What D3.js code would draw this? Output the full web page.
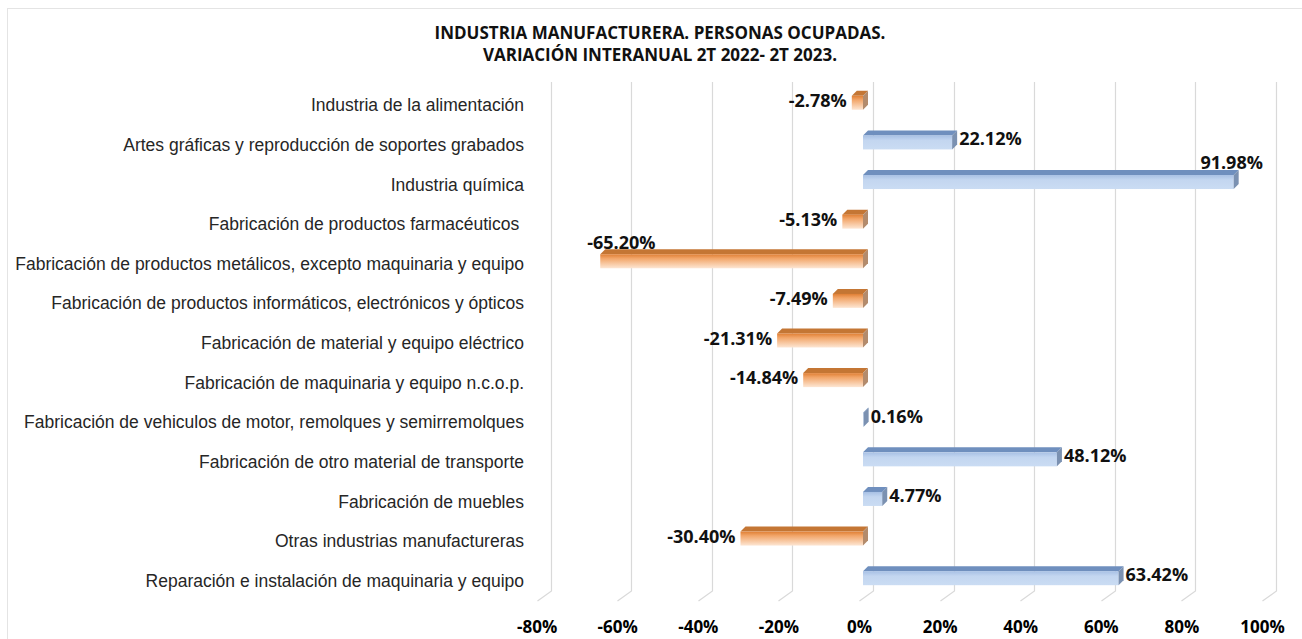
<!DOCTYPE html>
<html>
<head>
<meta charset="utf-8">
<script src="https://cdn.jsdelivr.net/npm/d3@7"></script>
<style>
  body { margin: 0; background: #fff; }
  svg { display: block; }
</style>
</head>
<body>
<div id="my_dataviz"></div>
<script>
// data
var categories = [
  "Industria de la alimentación",
  "Artes gráficas y reproducción de soportes grabados",
  "Industria química",
  "Fabricación de productos farmacéuticos ",
  "Fabricación de productos metálicos, excepto maquinaria y equipo",
  "Fabricación de productos informáticos, electrónicos y ópticos",
  "Fabricación de material y equipo eléctrico",
  "Fabricación de maquinaria y equipo n.c.o.p.",
  "Fabricación de vehiculos de motor, remolques y semirremolques",
  "Fabricación de otro material de transporte",
  "Fabricación de muebles",
  "Otras industrias manufactureras",
  "Reparación e instalación de maquinaria y equipo"
];
var values = [-2.78, 22.12, 91.98, -5.13, -65.20, -7.49, -21.31, -14.84, 0.16, 48.12, 4.77, -30.40, 63.42];
var ticks = [-80, -60, -40, -20, 0, 20, 40, 60, 80, 100];
var titleLines = ["INDUSTRIA MANUFACTURERA. PERSONAS OCUPADAS.", "VARIACIÓN INTERANUAL 2T 2022- 2T 2023."];

var width = 1302, height = 639;

// 3d look: back wall sits 10px right of the bars' front plane
var wallDx = 10, floorDx = -14, floorDy = 10;
var barDx = 5, barDy = 5;
var plotTop = 86, plotBottom = 601, wallTop = 82;

var svg = d3.select("#my_dataviz")
  .append("svg")
    .attr("width", width)
    .attr("height", height);

var defs = svg.append("defs");

function grad(id, stops) {
  var g = defs.append("linearGradient")
    .attr("id", id)
    .attr("x1", 0).attr("y1", 0).attr("x2", 0).attr("y2", 1);
  stops.forEach(function(s) {
    g.append("stop").attr("offset", s[0]).attr("stop-color", s[1]);
  });
}
grad("blueFront", [[0, "#a7c0e4"], [0.35, "#c3d6f0"], [1, "#cadcf3"]]);
grad("orangeFront", [[0, "#e07f34"], [0.3, "#f2a66a"], [1, "#fde6d3"]]);

// chart border, faint
svg.append("rect")
  .attr("x", 7.5).attr("y", 8.5)
  .attr("width", 1400).attr("height", 700)
  .attr("fill", "none")
  .attr("stroke", "#e4e4e4");

// front-plane x scale
var xScale = d3.scaleLinear()
  .domain([-80, 100])
  .range([863 - 80 * 4.03, 863 + 100 * 4.03]);

var yScale = d3.scaleBand()
  .domain(categories)
  .range([plotTop, plotBottom]);

// gridlines on the back wall, bending onto the floor
svg.append("g")
  .selectAll("path")
  .data(ticks)
  .enter()
  .append("path")
    .attr("fill", "none")
    .attr("stroke", "#d9d9d9")
    .attr("stroke-width", 1.2)
    .attr("d", function(d) {
      var xb = Math.round(xScale(d) + wallDx) + 0.5;
      var yb = plotBottom - floorDy;
      return "M" + xb + "," + wallTop + "L" + xb + "," + yb +
             "L" + (xb + floorDx) + "," + (yb + floorDy);
    });

// x axis labels (no domain line, no ticks)
var xAxis = d3.axisBottom(xScale)
  .tickValues(ticks)
  .tickSize(0)
  .tickFormat(function(d) { return d + "%"; });

svg.append("g")
  .attr("transform", "translate(" + (wallDx + floorDx) + ",622)")
  .call(xAxis)
  .call(function(g) { g.select(".domain").remove(); })
  .selectAll("text")
    .attr("dy", "0.32em")
    .attr("y", 6)
    .style("font-family", "'Open Sans', sans-serif")
    .style("font-weight", "bold")
    .style("font-size", "17px")
    .style("fill", "#000");

// category labels
var yAxis = d3.axisLeft(yScale).tickSize(0);
svg.append("g")
  .attr("transform", "translate(528,0)")
  .call(yAxis)
  .call(function(g) { g.select(".domain").remove(); })
  .selectAll("text")
    .attr("x", -4)
    .style("white-space", "pre")
    .style("font-family", "'Liberation Sans', Arial, sans-serif")
    .style("font-size", "17.5px")
    .style("fill", "#262626");

// bars
var bars = svg.append("g")
  .selectAll("g")
  .data(values)
  .enter()
  .append("g");

function cy(i) { return yScale(categories[i]) + yScale.bandwidth() / 2; }

bars.each(function(v, i) {
  var g = d3.select(this);
  var c = cy(i);
  var x0 = xScale(Math.min(0, v)), x1 = xScale(Math.max(0, v));
  var yt = c - 10, yb = c + 4;
  var pos = v >= 0;
  // top face
  g.append("path")
    .attr("fill", pos ? "#6f8fbe" : "#c47634")
    .attr("d", "M" + x0 + "," + yt + "L" + (x0 + barDx) + "," + (yt - barDy) +
               "L" + (x1 + barDx) + "," + (yt - barDy) + "L" + x1 + "," + yt + "Z");
  // front face
  g.append("rect")
    .attr("x", x0).attr("y", yt)
    .attr("width", Math.max(0.6, x1 - x0)).attr("height", yb - yt)
    .attr("fill", pos ? "url(#blueFront)" : "url(#orangeFront)");
  // side face on the right end
  g.append("path")
    .attr("fill", pos ? "#7b91b1" : "#b38b6c")
    .attr("d", "M" + x1 + "," + yt + "L" + (x1 + barDx) + "," + (yt - barDy) +
               "L" + (x1 + barDx) + "," + (yb - barDy) + "L" + x1 + "," + yb + "Z");
});

// data labels
var ctx = document.createElement("canvas").getContext("2d");
ctx.font = "bold 18px 'Open Sans'";

bars.append("text")
  .style("font-family", "'Open Sans', sans-serif")
  .style("font-weight", "bold")
  .style("font-size", "18px")
  .style("fill", "#111")
  .attr("dominant-baseline", "central")
  .each(function(v, i) {
    var t = d3.select(this);
    var s = v.toFixed(2) + "%";
    var w = ctx.measureText(s).width;
    var c = cy(i);
    t.text(s);
    if (v >= 0) {
      var xs = xScale(v) + barDx + 2;
      if (xs + w > width - 10) {
        // no room on the right: put it above the bar end
        t.attr("x", xScale(v) - 2).attr("y", c - 23).attr("text-anchor", "middle");
      } else {
        t.attr("x", xs).attr("y", c - 7).attr("text-anchor", "start");
      }
    } else {
      var xe = xScale(v) - 5;
      if (xe - w < xScale(-80)) {
        t.attr("x", xScale(v) - 13).attr("y", c - 22).attr("text-anchor", "start");
      } else {
        t.attr("x", xe).attr("y", c - 6).attr("text-anchor", "end");
      }
    }
  });

// title
svg.append("text")
  .attr("x", 660)
  .attr("text-anchor", "middle")
  .style("font-family", "'Open Sans', sans-serif")
  .style("font-weight", "bold")
  .style("font-size", "17px")
  .style("fill", "#111")
  .selectAll("tspan")
  .data(titleLines)
  .enter()
  .append("tspan")
    .attr("x", 660)
    .attr("y", function(d, i) { return 39 + i * 22; })
    .text(function(d) { return d; });
</script>
</body>
</html>
